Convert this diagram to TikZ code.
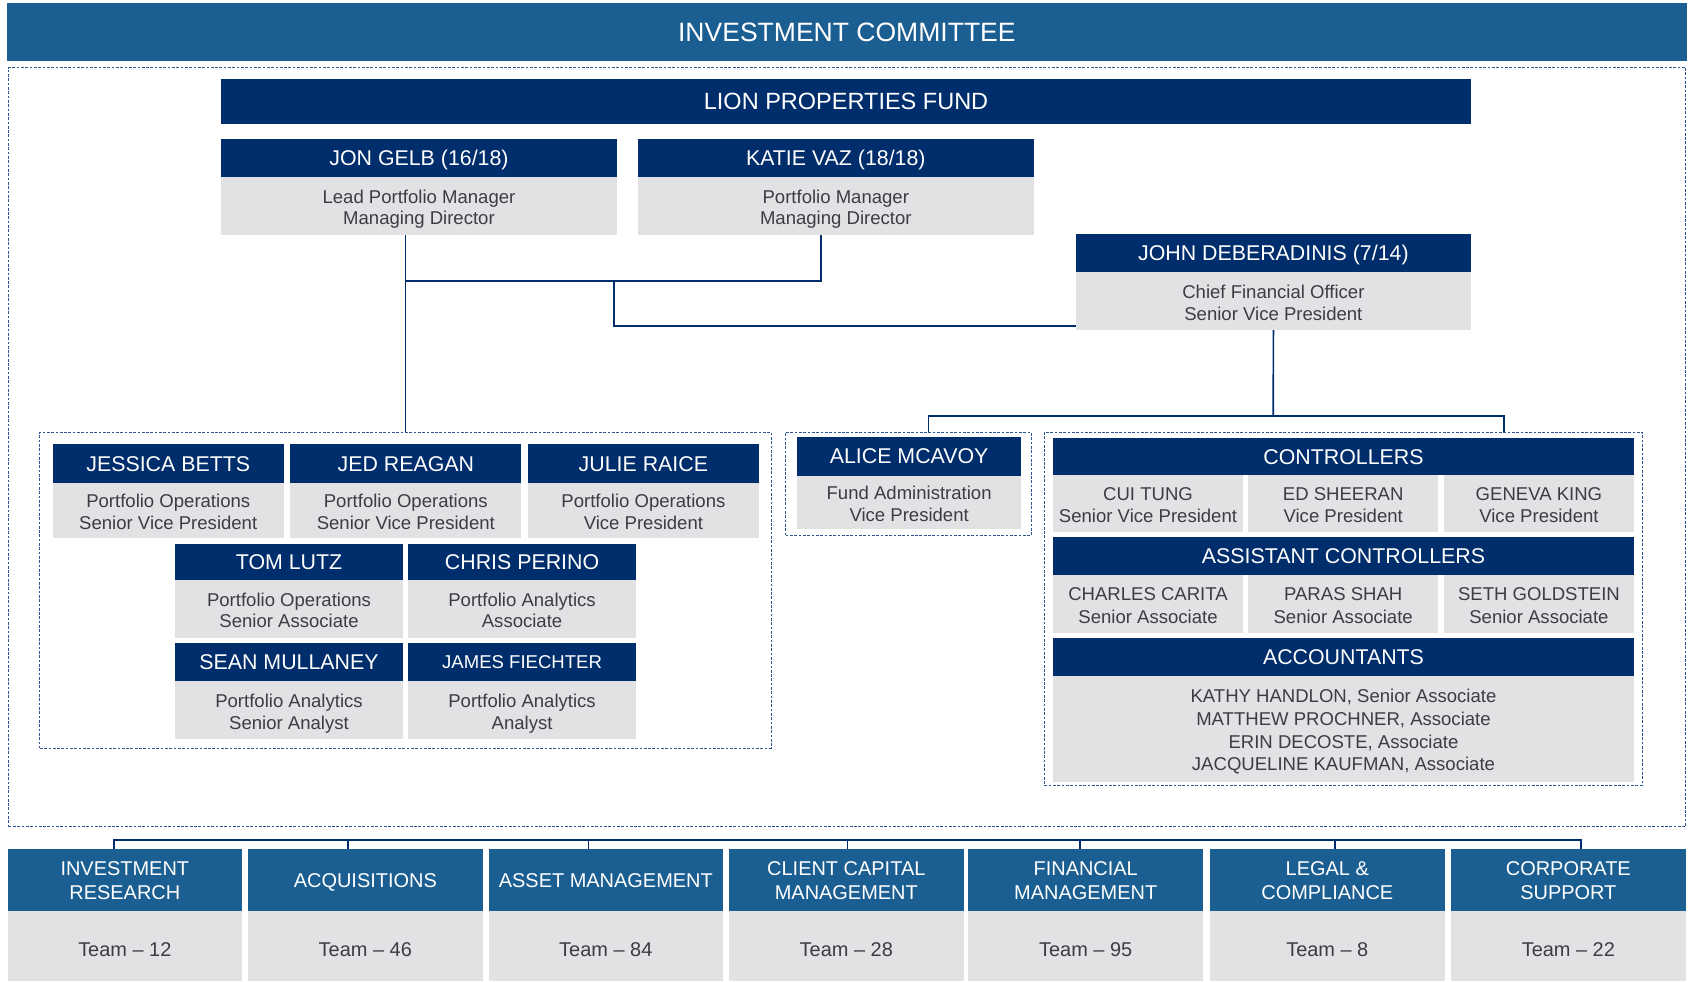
\documentclass[tikz,border=0pt]{standalone}
\usepackage{fontspec}
\setmainfont{Liberation Sans}
\usetikzlibrary{positioning}
\definecolor{midblue}{RGB}{27,94,145}
\definecolor{navy}{RGB}{0,45,107}
\definecolor{cellgray}{RGB}{226,226,228}
\definecolor{bodytext}{RGB}{60,60,66}
\definecolor{dashblue}{RGB}{45,85,145}

\begin{document}
\begin{tikzpicture}[
    x=1pt, y=-1pt,
    every node/.style={inner sep=0pt, outer sep=0pt},
    banner/.style={fill=midblue, text=white, anchor=north west, text height=17.6pt, text depth=0pt, font=\fontsize{24.6}{28}\selectfont},
    fund/.style={fill=navy, text=white, anchor=north west, text height=15.6pt, text depth=0pt, font=\fontsize{21.8}{26}\selectfont},
    head/.style={fill=navy, text=white, anchor=north west, minimum height=35pt, text height=14.2pt, text depth=0pt, font=\fontsize{19.8}{23}\selectfont},
    body/.style={fill=cellgray, text=bodytext, align=center, anchor=north, text height=35.6pt, text depth=0pt, font=\fontsize{17.2}{20}\selectfont},
    cell/.style={fill=cellgray, text=bodytext, align=center, anchor=north west, minimum width=176pt, text height=36.3pt, text depth=0pt, font=\fontsize{17.2}{21}\selectfont},
    dept/.style={fill=midblue, text=white, align=center, anchor=north west, minimum width=217.5pt, minimum height=58pt, text height=35.2pt, text depth=0pt, font=\fontsize{18.5}{22}\selectfont},
    team/.style={fill=cellgray, text=bodytext, minimum width=217.5pt, minimum height=65pt, text height=18.2pt, text depth=0pt, font=\fontsize{18.5}{22}\selectfont},
    group/.style={draw=dashblue, dash pattern=on 2.5pt off 1.5pt, line width=0.9pt, anchor=north west},
    link/.style={draw=navy, line width=1.6pt}
]
\useasboundingbox (0,0) rectangle (1568,910);

% committee and fund
\node[banner, minimum width=1557.5pt, minimum height=53.5pt] (committee) at (6.5,3) {INVESTMENT COMMITTEE};
\node[group, minimum width=1555pt, minimum height=704pt] (fundgrp) at (8,62.7) {};
\node[fund, minimum width=1159pt, minimum height=41.5pt] (fund) at (205,73.3) {LION PROPERTIES FUND};

% portfolio managers and cfo
\node[head, minimum width=367pt] (gelb) at (205,129) {JON GELB (16/18)};
\node[body, minimum width=367pt, minimum height=53.5pt, below=0pt of gelb] (gelbrole) {Lead Portfolio Manager\\Managing Director};
\node[head, minimum width=367pt, right=19.5pt of gelb] (vaz) {KATIE VAZ (18/18)};
\node[body, minimum width=367pt, minimum height=53.5pt, below=0pt of vaz] (vazrole) {Portfolio Manager\\Managing Director};
\node[head, minimum width=366.5pt] (cfo) at (997.5,217) {JOHN DEBERADINIS (7/14)};
\node[body, minimum width=366.5pt, minimum height=54pt, below=0pt of cfo] (cforole) {Chief Financial Officer\\Senior Vice President};

% portfolio operations and analytics
\node[group, minimum width=678pt, minimum height=293pt] (opsgrp) at (37,400.6) {};
\node[head, minimum width=214pt, minimum height=35.5pt] (betts) at (49,412) {JESSICA BETTS};
\node[body, minimum width=214pt, minimum height=51pt, below=0pt of betts] (bettsrole) {Portfolio Operations\\Senior Vice President};
\node[head, minimum width=214pt, minimum height=35.5pt, right=6.3pt of betts] (reagan) {JED REAGAN};
\node[body, minimum width=214pt, minimum height=51pt, below=0pt of reagan] (reaganrole) {Portfolio Operations\\Senior Vice President};
\node[head, minimum width=214pt, minimum height=35.5pt, right=6.3pt of reagan] (raice) {JULIE RAICE};
\node[body, minimum width=214pt, minimum height=51pt, below=0pt of raice] (raicerole) {Portfolio Operations\\Vice President};
\node[head, minimum width=211.4pt, minimum height=33pt] (lutz) at (162.3,504.7) {TOM LUTZ};
\node[body, minimum width=211.4pt, minimum height=53.5pt, below=0pt of lutz] (lutzrole) {Portfolio Operations\\Senior Associate};
\node[head, minimum width=211.4pt, minimum height=33pt, right=4.7pt of lutz] (perino) {CHRIS PERINO};
\node[body, minimum width=211.4pt, minimum height=53.5pt, below=0pt of perino] (perinorole) {Portfolio Analytics\\Associate};
\node[head, minimum width=211.4pt, minimum height=35.3pt] (mullaney) at (162.3,596.2) {SEAN MULLANEY};
\node[body, minimum width=211.4pt, minimum height=53.5pt, below=0pt of mullaney] (mullaneyrole) {Portfolio Analytics\\Senior Analyst};
\node[head, minimum width=211.4pt, minimum height=35.3pt, right=4.7pt of mullaney, text height=12.3pt, font=\fontsize{17.2}{20}\selectfont] (fiechter) {JAMES FIECHTER};
\node[body, minimum width=211.4pt, minimum height=53.5pt, below=0pt of fiechter] (fiechterrole) {Portfolio Analytics\\Analyst};

% fund administration
\node[group, minimum width=227.4pt, minimum height=96pt] (admingrp) at (728.6,400.6) {};
\node[head, minimum width=208pt, minimum height=35.8pt] (mcavoy) at (739,405.2) {ALICE MCAVOY};
\node[body, minimum width=208pt, minimum height=49.2pt, below=0pt of mcavoy, font=\fontsize{17.2}{21}\selectfont, text height=36.3pt] (mcavoyrole) {Fund Administration\\Vice President};

% controllers and accountants
\node[group, minimum width=554.4pt, minimum height=327.3pt] (ctrlgrp) at (968.4,400.6) {};
\node[head, minimum width=538.5pt, minimum height=34.4pt] (ctrl) at (976.5,406) {CONTROLLERS};
\node[cell, minimum height=52.6pt] (tung) at (ctrl.south west) {CUI TUNG\\Senior Vice President};
\node[cell, minimum height=52.6pt, right=5pt of tung] (sheeran) {ED SHEERAN\\Vice President};
\node[cell, minimum height=52.6pt, right=5.5pt of sheeran] (king) {GENEVA KING\\Vice President};
\node[head, minimum width=538.5pt, minimum height=35pt] (asst) at ([yshift=-5pt]tung.south west) {ASSISTANT CONTROLLERS};
\node[cell, minimum height=53.6pt] (carita) at (asst.south west) {CHARLES CARITA\\Senior Associate};
\node[cell, minimum height=53.6pt, right=5pt of carita] (shah) {PARAS SHAH\\Senior Associate};
\node[cell, minimum height=53.6pt, right=5.5pt of shah] (goldstein) {SETH GOLDSTEIN\\Senior Associate};
\node[head, minimum width=538.5pt, minimum height=34.5pt] (acct) at ([yshift=-5.4pt]carita.south west) {ACCOUNTANTS};
\node[body, minimum width=538.5pt, minimum height=98.3pt, below=0pt of acct, font=\fontsize{17.2}{21}\selectfont, text height=78.3pt] (acctnames) {KATHY HANDLON, Senior Associate\\MATTHEW PROCHNER, Associate\\ERIN DECOSTE, Associate\\JACQUELINE KAUFMAN, Associate};

% departments
\node[dept] (research) at (7,787) {INVESTMENT\\RESEARCH};
\node[team, below=0pt of research] (researchteam) {Team -- 12};
\node[dept, text height=13.2pt] (acq) at (230,787) {ACQUISITIONS};
\node[team, below=0pt of acq] (acqteam) {Team -- 46};
\node[dept, text height=13.2pt] (asset) at (453,787) {ASSET MANAGEMENT};
\node[team, below=0pt of asset] (assetteam) {Team -- 84};
\node[dept] (client) at (676,787) {CLIENT CAPITAL\\MANAGEMENT};
\node[team, below=0pt of client] (clientteam) {Team -- 28};
\node[dept] (finance) at (898,787) {FINANCIAL\\MANAGEMENT};
\node[team, below=0pt of finance] (financeteam) {Team -- 95};
\node[dept] (legal) at (1122,787) {LEGAL \&\\COMPLIANCE};
\node[team, below=0pt of legal] (legalteam) {Team -- 8};
\node[dept] (support) at (1345.5,787) {CORPORATE\\SUPPORT};
\node[team, below=0pt of support] (supportteam) {Team -- 22};

% reporting lines
\coordinate (fundjoin) at (376,260.3);
\coordinate (cfojoin) at (569,260.3);
\coordinate (cfobus) at (1180.7,385.4);
\coordinate (deptbus) at (0,779);
\draw[link] (opsgrp.north) -- (opsgrp.north |- gelbrole.south);
\draw[link] ([xshift=-14pt]vazrole.south) |- (fundjoin);
\draw[link] (cfojoin) |- ([yshift=3.7pt]cforole.south west);
\draw[link] (cforole.south) -- (cfobus);
\draw[link] ([xshift=18.7pt]admingrp.north) |- (cfobus) -| ([xshift=149pt]ctrlgrp.north);
\draw[link] ([xshift=-10pt]research.north) |- ([xshift=12pt]support.north |- deptbus) -- ([xshift=12pt]support.north);
\draw[link] ([xshift=-16pt]acq.north) -- ([xshift=-16pt]acq.north |- deptbus);
\draw[link] ([xshift=-16pt]asset.north) -- ([xshift=-16pt]asset.north |- deptbus);
\draw[link] ([xshift=1pt]client.north) -- ([xshift=1pt]client.north |- deptbus);
\draw[link] ([xshift=-5pt]finance.north) -- ([xshift=-5pt]finance.north |- deptbus);
\draw[link] ([xshift=7pt]legal.north) -- ([xshift=7pt]legal.north |- deptbus);
\end{tikzpicture}
\end{document}
